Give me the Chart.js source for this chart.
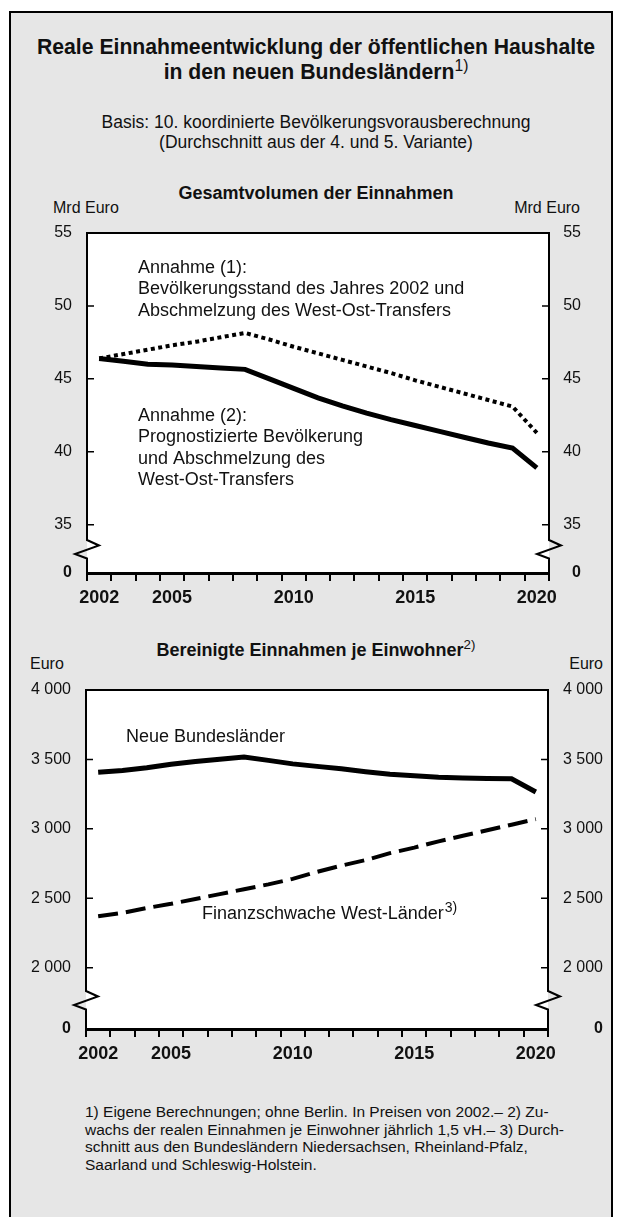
<!DOCTYPE html>
<html>
<head>
<meta charset="utf-8">
<script src="https://cdn.jsdelivr.net/npm/chart.js@4.4.1/dist/chart.umd.min.js"></script>
<style>
  body { margin: 0; background: #fff; font-family: "Liberation Sans", Arial, Helvetica, sans-serif; color: #111; }
  #page { position: relative; width: 618px; height: 1217px; overflow: hidden; }
  #frame { position: absolute; left: 9px; top: 11px; width: 600px; height: 1240px; border: 2px solid #000; background: #e6e6e6; }
  .c { position: absolute; left: 0; width: 632px; text-align: center; white-space: nowrap; }
  .l { position: absolute; white-space: nowrap; }
  sup { font-size: 0.74em; font-weight: normal; vertical-align: 0; position: relative; top: -0.5em; }
  canvas { position: absolute; left: 0; }
</style>
</head>
<body>
<div id="page">
  <div id="frame"></div>

  <div class="c" style="top:34px;font-size:21.2px;font-weight:bold;line-height:25px;">
    Reale Einnahmeentwicklung der öffentlichen Haushalte<br>in den neuen Bundesländern<sup>1)</sup>
  </div>
  <div class="c" style="top:112px;font-size:17.5px;line-height:20px;">
    Basis: 10. koordinierte Bevölkerungsvorausberechnung<br>(Durchschnitt aus der 4. und 5. Variante)
  </div>

  <div class="c" style="top:182px;font-size:18px;font-weight:bold;line-height:22px;">Gesamtvolumen der Einnahmen</div>
  <div class="l" style="left:53px;top:199px;font-size:16px;line-height:18px;">Mrd Euro</div>
  <div class="l" style="right:38px;top:199px;font-size:16px;line-height:18px;">Mrd Euro</div>
  <canvas id="volumen" width="618" height="420" style="top:200px;"></canvas>

  <div class="c" style="top:639px;font-size:18px;font-weight:bold;line-height:22px;">Bereinigte Einnahmen je Einwohner<sup>2)</sup></div>
  <div class="l" style="left:30px;top:655px;font-size:16px;line-height:18px;">Euro</div>
  <div class="l" style="right:15px;top:655px;font-size:16px;line-height:18px;">Euro</div>
  <canvas id="einwohner" width="618" height="420" style="top:660px;"></canvas>

  <div class="l" style="left:85px;top:1103px;font-size:15.5px;line-height:17.5px;">
    1) Eigene Berechnungen; ohne Berlin. In Preisen von 2002.– 2) Zu-<br>
    wachs der realen Einnahmen je Einwohner jährlich 1,5 vH.– 3) Durch-<br>
    schnitt aus den Bundesländern Niedersachsen, Rheinland-Pfalz,<br>
    Saarland und Schleswig-Holstein.
  </div>
</div>

<script>
const years = ['2002', '2003', '2004', '2005', '2006', '2007', '2008', '2009', '2010', '2011',
               '2012', '2013', '2014', '2015', '2016', '2017', '2018', '2019', '2020'];
const yearLabels = ['2002', '2005', '2010', '2015', '2020'];

// Mrd Euro
const annahme1 = [46.4, 46.7, 47.0, 47.3, 47.55, 47.85, 48.15, 47.7, 47.2, 46.75,
                  46.3, 45.85, 45.4, 44.9, 44.45, 44.0, 43.55, 43.1, 41.3];
const annahme2 = [46.4, 46.2, 46.0, 45.95, 45.85, 45.75, 45.65, 45.0, 44.35, 43.7,
                  43.15, 42.65, 42.2, 41.8, 41.4, 41.0, 40.6, 40.25, 38.9];
const volumenTicks = [35, 40, 45, 50, 55];
const volumenBreak = 31.69;   // value at the x axis, labelled "0" (broken axis)

// Euro je Einwohner
const neueLaender = [3408, 3420, 3440, 3465, 3485, 3502, 3517, 3493, 3468, 3450,
                     3433, 3412, 3393, 3382, 3372, 3367, 3363, 3360, 3265];
const westLaender = [2370, 2395, 2430, 2460, 2495, 2530, 2565, 2600, 2640, 2690,
                     2735, 2775, 2825, 2865, 2910, 2950, 2990, 3030, 3070];
const einwohnerTicks = [2000, 2500, 3000, 3500, 4000];
const einwohnerBreak = 1558.5;

const FONT = '"Liberation Sans", Arial, Helvetica, sans-serif';
const INK = '#111';

function fmt(v) {
    return String(v).replace(/\B(?=(\d{3})+(?!\d))/g, ' ');
}

// white plot area, axis lines with break, inward ticks, text notes
const frame = {
    id: 'frame',
    beforeDraw(chart) {
        const { ctx, chartArea: a } = chart;
        ctx.save();
        ctx.fillStyle = '#fff';
        ctx.fillRect(a.left, a.top, a.right - a.left, a.bottom - a.top);
        ctx.restore();
    },
    afterDraw(chart, args, opts) {
        const { ctx, chartArea: a } = chart;
        const c = a.bottom - opts.breakOffset;
        ctx.save();
        ctx.strokeStyle = '#000';
        ctx.lineWidth = 2;
        ctx.lineJoin = 'miter';

        ctx.beginPath();
        ctx.moveTo(a.left - 1, a.top);
        ctx.lineTo(a.right + 1, a.top);
        ctx.stroke();

        for (const x of [a.left, a.right]) {
            ctx.beginPath();
            ctx.moveTo(x, a.top);
            ctx.lineTo(x, c - 9);
            ctx.lineTo(x + 12, c - 3.5);
            ctx.lineTo(x - 12, c + 5);
            ctx.lineTo(x, c + 9.5);
            ctx.lineTo(x, a.bottom);
            ctx.stroke();
        }

        const y = chart.scales.y;
        ctx.lineWidth = 1.5;
        y.ticks.slice(1).forEach(t => {
            const py = y.getPixelForValue(t.value);
            ctx.beginPath();
            ctx.moveTo(a.left, py); ctx.lineTo(a.left + 7, py);
            ctx.moveTo(a.right - 7, py); ctx.lineTo(a.right, py);
            ctx.stroke();
        });

        ctx.fillStyle = INK;
        ctx.textBaseline = 'middle';
        ctx.textAlign = 'left';
        opts.notes.forEach(n => {
            const x0 = a.left + n.x;
            n.lines.forEach((line, i) => {
                const py = a.top + n.y + i * 21.5;
                ctx.font = '18px ' + FONT;
                ctx.fillText(line, x0, py);
                if (n.sup && i === n.lines.length - 1) {
                    const w = ctx.measureText(line).width;
                    ctx.font = '14px ' + FONT;
                    ctx.fillText(n.sup, x0 + w + 1, py - 6);
                }
            });
        });
        ctx.restore();
    }
};

function yScale(position, lo, hi, ticks, width) {
    return {
        position,
        min: lo,
        max: hi,
        afterBuildTicks: s => { s.ticks = [lo, ...ticks].map(v => ({ value: v })); },
        afterFit: s => { s.width = width; },
        grid: { display: false, drawTicks: false },
        border: { display: false },
        ticks: {
            padding: 15,
            crossAlign: position === 'right' ? 'far' : 'near',
            color: INK,
            font: c => ({ family: FONT, size: 16, weight: c.index === 0 ? 'bold' : 'normal' }),
            callback: (v, i) => i === 0 ? '0' : fmt(v)
        }
    };
}

function makeChart(id, datasets, s) {
    return new Chart(document.getElementById(id), {
        type: 'line',
        data: { labels: years, datasets },
        plugins: [frame],
        options: {
            responsive: false,
            animation: false,
            events: [],
            layout: { padding: { top: s.padTop, right: s.padRight, left: 0, bottom: 0 } },
            elements: { point: { radius: 0 }, line: { tension: 0, fill: false, borderColor: '#000', borderCapStyle: 'butt' } },
            plugins: {
                legend: { display: false },
                tooltip: { enabled: false },
                frame: { breakOffset: s.breakOffset, notes: s.notes }
            },
            scales: {
                x: {
                    type: 'category',
                    offset: true,
                    afterFit: sc => { sc.height = s.xHeight; },
                    grid: { drawOnChartArea: false, offset: true, tickLength: 8, lineWidth: 2, color: '#000' },
                    border: { display: true, width: 3, color: '#000' },
                    ticks: {
                        autoSkip: false,
                        maxRotation: 0,
                        padding: 6,
                        color: INK,
                        font: { family: FONT, size: 18, weight: 'bold' },
                        callback: (v, i) => yearLabels.includes(years[i]) ? years[i] : ''
                    }
                },
                y: yScale('left', s.lo, s.hi, s.ticks, s.leftWidth),
                y2: yScale('right', s.lo, s.hi, s.ticks, s.rightWidth)
            }
        }
    });
}

makeChart('volumen', [
    { data: annahme1, borderWidth: 4, borderDash: [4, 3.5] },
    { data: annahme2, borderWidth: 5 }
], {
    lo: volumenBreak, hi: 55, ticks: volumenTicks,
    padTop: 33, padRight: 37, leftWidth: 87, rightWidth: 32, xHeight: 47,
    breakOffset: 24,
    notes: [
        { x: 51, y: 35, lines: ['Annahme (1):', 'Bevölkerungsstand des Jahres 2002 und', 'Abschmelzung des West-Ost-Transfers'] },
        { x: 51, y: 183, lines: ['Annahme (2):', 'Prognostizierte Bevölkerung', 'und Abschmelzung des', 'West-Ost-Transfers'] }
    ]
});

makeChart('einwohner', [
    { data: neueLaender, borderWidth: 5 },
    { data: westLaender, borderWidth: 4, borderDash: [20, 8] }
], {
    lo: einwohnerBreak, hi: 4000, ticks: einwohnerTicks,
    padTop: 30, padRight: 15, leftWidth: 86, rightWidth: 55, xHeight: 51,
    breakOffset: 29,
    notes: [
        { x: 40, y: 47, lines: ['Neue Bundesländer'] },
        { x: 116, y: 224, lines: ['Finanzschwache West-Länder'], sup: '3)' }
    ]
});
</script>
</body>
</html>
